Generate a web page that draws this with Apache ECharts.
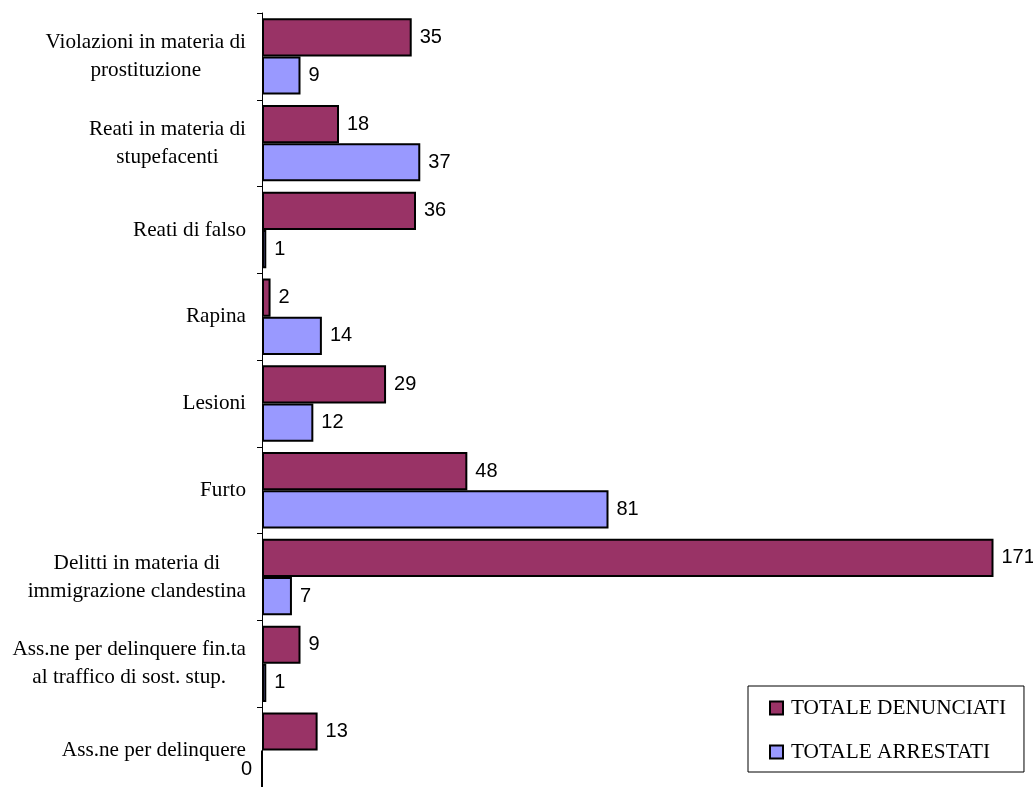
<!DOCTYPE html>
<html>
<head>
<meta charset="utf-8">
<script src="https://cdn.jsdelivr.net/npm/echarts@6/dist/echarts.min.js"></script>
<style>
  html, body { margin: 0; padding: 0; background: #fff; overflow: hidden; }
  /* the drawing runs a few pixels past the bottom of the window */
  #chart { width: 1033px; height: 800px; }
</style>
</head>
<body>
<div id="chart"></div>
<script>
// Offence categories, listed top to bottom
const categories = [
  'Violazioni in materia di\nprostituzione',
  'Reati in materia di\nstupefacenti',
  'Reati di falso',
  'Rapina',
  'Lesioni',
  'Furto',
  'Delitti in materia di\nimmigrazione clandestina',
  'Ass.ne per delinquere fin.ta\nal traffico di sost. stup.',
  'Ass.ne per delinquere'
];
const denunciati = [35, 18, 36, 2, 29, 48, 171, 9, 13];
const arrestati = [9, 37, 1, 14, 12, 81, 7, 1, 0];
const seriesNames = ['TOTALE DENUNCIATI', 'TOTALE ARRESTATI'];

const valueLabel = {
  show: true,
  position: 'right',
  distance: 8,
  color: '#000',
  fontFamily: 'Liberation Sans, Arial, sans-serif',
  fontSize: 20
};

// zero values get their label on the left side of the axis
function toItems(values) {
  return values.map(v => v === 0
    ? { value: v, label: { position: 'left', distance: 9 } }
    : v);
}

const chart = echarts.init(document.getElementById('chart'), null, { renderer: 'canvas' });
chart.setOption({
  backgroundColor: '#fff',
  animation: false,
  grid: { left: 262, top: 13, right: 1, bottom: 6, containLabel: false },
  xAxis: {
    type: 'value',
    min: 0,
    max: 180,
    show: false,
    splitLine: { show: false }
  },
  yAxis: {
    type: 'category',
    inverse: true,
    data: categories,
    axisLine: { show: true, lineStyle: { color: '#000', width: 1 } },
    axisTick: { show: true, length: 5, lineStyle: { color: '#000', width: 1 } },
    axisLabel: {
      margin: 16,
      align: 'right',
      formatter: v => v.split('\n').map(s => '{c|' + s + '}').join('\n'),
      rich: {
        c: {
          align: 'center',
          color: '#000',
          fontFamily: 'Liberation Serif, Times New Roman, serif',
          fontSize: 21.2,
          lineHeight: 28
        }
      }
    }
  },
  legend: {
    orient: 'vertical',
    left: 748,
    top: 686,
    padding: [10, 18, 8, 21],
    itemGap: 20,
    itemWidth: 13,
    itemHeight: 13,
    icon: 'rect',
    backgroundColor: '#fff',
    borderColor: '#000',
    borderWidth: 1,
    borderRadius: 0,
    textStyle: {
      color: '#000',
      fontFamily: 'Liberation Serif, Times New Roman, serif',
      fontSize: 21.3,
      lineHeight: 24,
      padding: [0, 0, 0, 3]
    },
    data: seriesNames
  },
  series: [
    {
      name: seriesNames[0],
      type: 'bar',
      data: toItems(denunciati),
      barGap: '0%',
      barCategoryGap: '12%',
      itemStyle: { color: '#993366', borderColor: '#000', borderWidth: 2 },
      label: valueLabel
    },
    {
      name: seriesNames[1],
      type: 'bar',
      data: toItems(arrestati),
      barGap: '0%',
      barCategoryGap: '12%',
      itemStyle: { color: '#9999FF', borderColor: '#000', borderWidth: 2 },
      label: valueLabel
    }
  ]
});
</script>
</body>
</html>
